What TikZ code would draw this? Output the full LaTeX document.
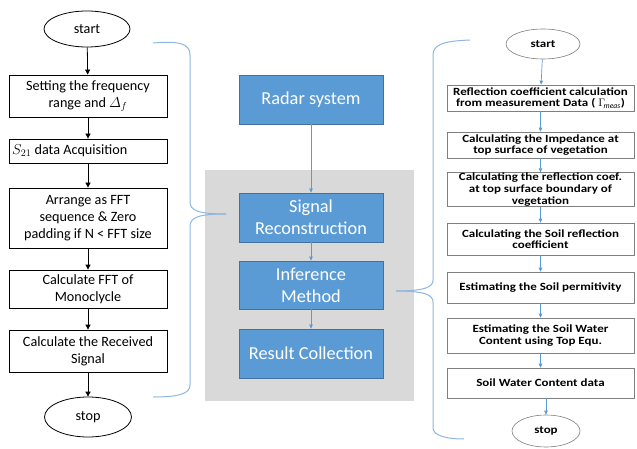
\documentclass[tikz,border=0pt]{standalone}
\usepackage{amsmath}
\usepackage{fontspec}
\setmainfont{Carlito}
\newfontfamily\stepfont[FakeStretch=1.18]{Carlito}
\usetikzlibrary{shapes.geometric,arrows.meta}
\definecolor{boxblue}{HTML}{5B9BD5}
\definecolor{boxedge}{HTML}{41719C}
\definecolor{panel}{HTML}{D9D9D9}
\definecolor{bracecol}{HTML}{8EB6E0}
\definecolor{rline}{HTML}{7F7F7F}
\tikzset{
  lbox/.style={draw=black, line width=0.8pt, minimum width=158pt, inner sep=1pt,
    align=center, font=\fontsize{14.2}{17}\selectfont},
  lterm/.style={ellipse, draw=black, line width=0.8pt, inner sep=0pt,
    font=\fontsize{14.2}{17}\selectfont},
  mbox/.style={fill=boxblue, draw=boxedge, line width=0.7pt, minimum width=144pt,
    minimum height=49pt, inner sep=1pt, align=center, text=white,
    font=\fontsize{18.3}{22}\selectfont},
  rbox/.style={draw=rline, line width=0.6pt, minimum width=187pt, inner sep=0.5pt,
    align=center, font=\stepfont\bfseries\fontsize{11}{11.6}\selectfont},
  rterm/.style={ellipse, draw=rline, line width=0.6pt, inner sep=0pt,
    font=\stepfont\bfseries\fontsize{11}{11.6}\selectfont},
  larrow/.style={draw=black, line width=0.8pt, -{Triangle[length=5pt,width=5pt]}},
  barrow/.style={draw=boxblue, line width=0.7pt, -{Triangle[length=4pt,width=3.5pt]}},
  bracepath/.style={draw=bracecol, line width=1pt},
}
\begin{document}
\begin{tikzpicture}[x=1pt, y=-1pt]
\useasboundingbox (0,0) rectangle (637,449);

% ---- left flowchart: signal generation ----
\node[lterm, minimum width=86pt, minimum height=36pt] (ls) at (87,29) {start};
\node[lbox, minimum height=42pt] (l1) at (88,96) {Setting the frequency\\range and $\varDelta_f$};
\node[lbox, minimum height=24pt] (l2) at (88,151) {};
\node[anchor=west, inner sep=0pt, font=\fontsize{14.2}{17}\selectfont] (l2t) at (12,151) {$S_{21}$ data Acquisition};
\node[lbox, minimum height=60pt] (l3) at (88,218) {Arrange as FFT\\sequence \& Zero\\padding if N < FFT size};
\node[lbox, minimum height=38pt] (l4) at (88,289) {Calculate FFT of\\Monoclycle};
\node[lbox, minimum height=42pt] (l5) at (88,351) {Calculate the Received\\Signal};
\node[lterm, minimum width=87pt, minimum height=40pt] (le) at (88,417) {stop};

\draw[larrow] (ls) -- (l1);
\draw[larrow] (l1) -- (l2);
\draw[larrow] (l2) -- (l3);
\draw[larrow] (l3) -- (l4);
\draw[larrow] (l4) -- (l5);
\draw[larrow] (l5) -- (le);

% ---- middle: processing chain ----
\fill[panel] (205,170) rectangle (414,401);
\node[mbox] (radar) at (311,99.5) {Radar system};
\node[mbox] (sig) at (311,217.5) {Signal\\Reconstruction};
\node[mbox, minimum height=48pt] (inf) at (311,285) {Inference\\Method};
\node[mbox] (res) at (311,353.5) {Result Collection};

\draw[barrow] (radar) -- (sig);
\draw[barrow] (sig) -- (inf);
\draw[barrow] (inf) -- (res);

% ---- right flowchart: inference steps ----
\node[rterm, minimum width=74pt, minimum height=30pt] (rs) at (543,44) {start};
\node[rbox, minimum height=26pt] (r1) at (540.5,98) {Reflection coefficient calculation\\from measurement Data ( $\Gamma_{\!\mathit{meas}}$)};
\node[rbox, minimum height=26pt] (r2) at (540.5,145) {Calculating the Impedance at\\top surface of vegetation};
\node[rbox, minimum height=33pt] (r3) at (540.5,189.5) {Calculating the reflection coef.\\at top surface boundary of\\vegetation};
\node[rbox, minimum height=32pt] (r4) at (540.5,239) {Calculating the Soil reflection\\coefficient};
\node[rbox, minimum height=31pt] (r5) at (540.5,287.5) {Estimating the Soil permitivity};
\node[rbox, minimum height=35pt] (r6) at (540.5,335.5) {Estimating the Soil Water\\Content using Top Equ.};
\node[rbox, minimum height=30pt] (r7) at (540.5,383) {Soil Water Content data};
\node[rterm, minimum width=68pt, minimum height=32pt] (re) at (546,431) {stop};

\draw[barrow] (rs) -- (r1);
\draw[barrow] (r1) -- (r2);
\draw[barrow] (r2) -- (r3);
\draw[barrow] (r3) -- (r4);
\draw[barrow] (r4) -- (r5);
\draw[barrow] (r5) -- (r6);
\draw[barrow] (r6) -- (r7);
\draw[barrow] (r7.south -| re) -- (re);

% ---- braces ----
\coordinate (lbTop) at (153,43);
\coordinate (lbTip) at (226,214);
\coordinate (lbBot) at (153,397);
\draw[bracepath] (lbTop) .. controls (178,41) and (190,43) .. (190,55) -- (190,202)
  .. controls (190,211) and (200,214) .. (lbTip);
\draw[bracepath] (lbTip) .. controls (200,214) and (190,217) .. (190,226) -- (190,385)
  .. controls (190,394) and (178,397) .. (lbBot);

\coordinate (rbTop) at (470,40);
\coordinate (rbTip) at (396,291);
\coordinate (rbBot) at (464,439);
\draw[bracepath] (rbTop) .. controls (445,41) and (433,44) .. (433,55) -- (433,280)
  .. controls (433,287) and (425,291) .. (rbTip);
\draw[bracepath] (rbTip) .. controls (425,291) and (433,295) .. (433,302) -- (433,428)
  .. controls (433,435) and (445,439) .. (rbBot);
\end{tikzpicture}
\end{document}
